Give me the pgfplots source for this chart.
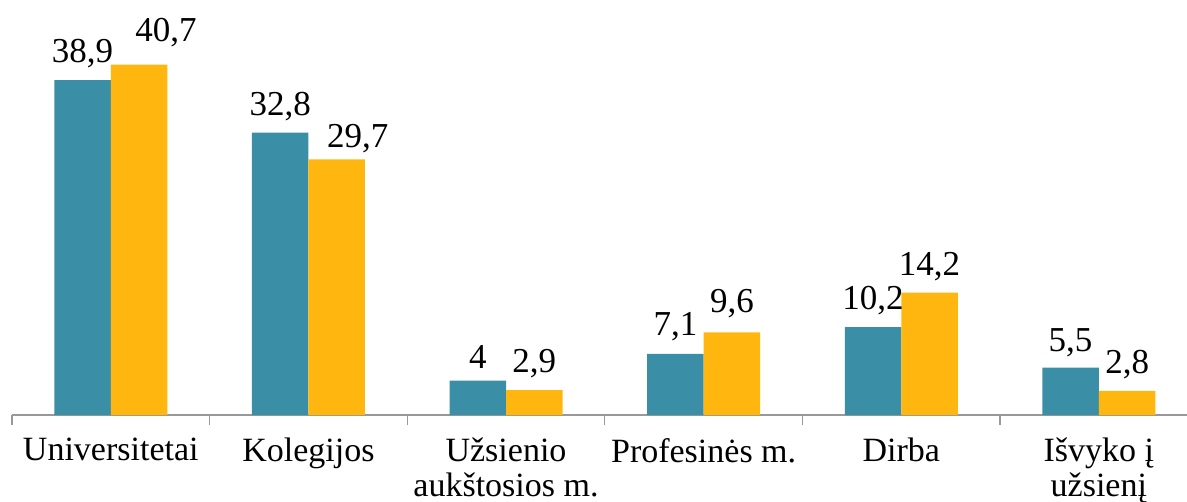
\documentclass[border=0pt]{standalone}
\usepackage{pgfplots}
\pgfplotsset{compat=1.18}
\usepackage{fontspec}
\setmainfont{Liberation Serif}
\definecolor{teal1}{RGB}{58,143,166}
\definecolor{gold1}{RGB}{255,183,15}
\pgfplotstableread{
x y dx dy
0 38.9 0 0
1 32.8 0 0
2 4 0 0
3 7.1 0 0.5
4 10.2 0 0
5 5.5 0 -0.5
}\teal
\pgfplotstableread{
x y dx dy
0 40.7 13.5 3
1 29.7 10.5 -3
2 2.9 0 0
3 9.6 0 1
4 14.2 0 0
5 2.8 0 0
}\gold
\begin{document}
\begin{tikzpicture}
\begin{axis}[
 name=ax,
 scale only axis, width=587.5pt, height=207.5pt,
 xmin=-0.5, xmax=5.446, ymin=0, ymax=48.2,
 axis x line*=bottom, axis y line=none,
 ybar=0pt, bar width=28.25pt,
 xtick={0,1,2,3,4,5},
 xticklabels={Universitetai, Kolegijos, {Užsienio\\aukštosios m.}, Profesinės m., Dirba, {Išvyko į\\užsienį}},
 xticklabel style={align=center, font=\fontsize{17}{17.5}\selectfont, yshift=-8pt},
 minor xtick={-0.5,0.5,1.5,2.5,3.5,4.5},
 major tick length=0pt, minor tick length=5pt, tick align=outside,
 every tick/.style={gray!80, line width=0.6pt},
 x axis line style={gray!80, line width=0.6pt, -},
 nodes near coords,
 visualization depends on={\thisrow{dx} \as \dx},
 visualization depends on={\thisrow{dy} \as \dy},
 every node near coord/.append style={font=\fontsize{17.5}{20}\selectfont, text=black, xshift=\dx pt, yshift=2.5pt+\dy pt},
 clip=false,
 /pgf/number format/use comma,
 /pgf/number format/fixed,
 /pgf/number format/precision=1,
 /pgf/number format/assume math mode=true,
]
\addplot[fill=teal1, draw=none] table[x=x, y=y] {\teal};
\addplot[fill=gold1, draw=none] table[x=x, y=y] {\gold};
\end{axis}
\pgfresetboundingbox
\path (ax.south west) ++(-6pt,-43.5pt) rectangle (ax.north east);
\end{tikzpicture}
\end{document}
